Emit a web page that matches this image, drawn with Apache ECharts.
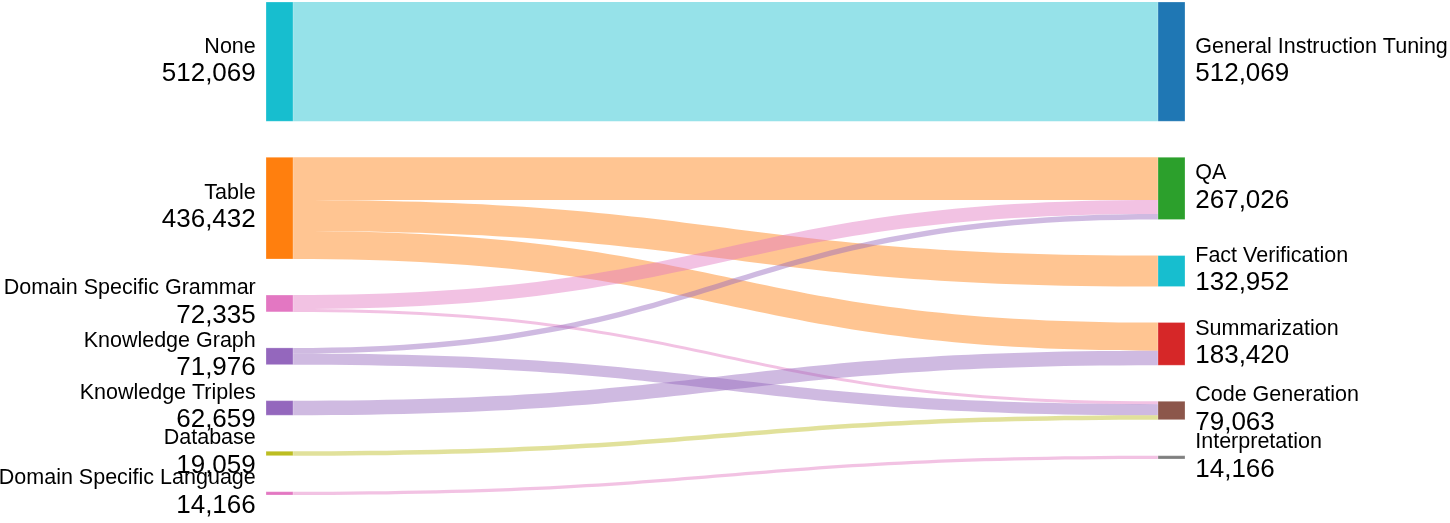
<!DOCTYPE html>
<html>
<head>
<meta charset="utf-8">
<script src="https://cdn.jsdelivr.net/npm/echarts@6/dist/echarts.min.js"></script>
<style>
  html, body { margin: 0; padding: 0; background: #fff; }
  #chart { width: 1450px; height: 523px; }
</style>
</head>
<body>
<div id="chart"></div>
<script>
// 数据源 (left column -> right column)
const sourceNodes = ['None', 'Table', 'Domain Specific Grammar', 'Knowledge Graph', 'Knowledge Triples', 'Database', 'Domain Specific Language']
const targetNodes = ['General Instruction Tuning', 'QA', 'Fact Verification', 'Summarization', 'Code Generation', 'Interpretation']

const linkFrom = ['None', 'Table', 'Table', 'Table', 'Domain Specific Grammar', 'Domain Specific Grammar', 'Knowledge Graph', 'Knowledge Graph', 'Knowledge Triples', 'Database', 'Domain Specific Language']
const linkTo = ['General Instruction Tuning', 'QA', 'Fact Verification', 'Summarization', 'QA', 'Code Generation', 'QA', 'Code Generation', 'Summarization', 'Code Generation', 'Interpretation']
const linkValue = [512069, 182719, 132952, 120761, 60000, 12335, 24307, 47669, 62659, 19059, 14166]

// plotly-ish palette
const sourceColors = ['#17becf', '#ff7f0e', '#e377c2', '#9467bd', '#9467bd', '#bcbd22', '#e377c2']
const targetColors = ['#1f77b4', '#2ca02c', '#17becf', '#d62728', '#8c564b', '#7f7f7f']

var myChart = echarts.init(document.getElementById('chart'))

var nodes = []
sourceNodes.forEach((name, i) => {
  nodes.push({ name: name, itemStyle: { color: sourceColors[i] } })
})
targetNodes.forEach((name, i) => {
  nodes.push({ name: name, itemStyle: { color: targetColors[i] } })
})

var links = linkFrom.map((s, i) => {
  return { source: s, target: linkTo[i], value: linkValue[i] }
})

var font = 'Liberation Sans, Arial, sans-serif'

var option = {
  animation: false,
  series: [
    {
      type: 'sankey',
      left: 266,
      right: 265,
      top: 2,
      bottom: 28,
      nodeWidth: 27,
      nodeGap: 36,
      layoutIterations: 0,
      draggable: false,
      emphasis: { disabled: true },
      data: nodes,
      links: links,
      itemStyle: {
        borderWidth: 0.5,
        borderColor: 'rgba(255,255,255,0.5)'
      },
      lineStyle: {
        color: 'source',
        opacity: 0.45,
        curveness: 0.5
      },
      label: {
        show: true,
        distance: 10,
        fontFamily: font,
        formatter: function (params) {
          return '{n|' + params.name + '}\n{v|' + Number(params.value).toLocaleString('en-US') + '}'
        },
        rich: {
          n: { fontSize: 21.5, lineHeight: 24, color: '#000', fontFamily: font },
          v: { fontSize: 26, lineHeight: 30, color: '#000', fontFamily: font }
        }
      },
      levels: [
        { depth: 0, label: { position: 'left', align: 'right' } },
        { depth: 1, label: { position: 'right', align: 'left' } }
      ]
    }
  ]
}

myChart.setOption(option)
window.onresize = function () {
  myChart.resize()
}
</script>
</body>
</html>
